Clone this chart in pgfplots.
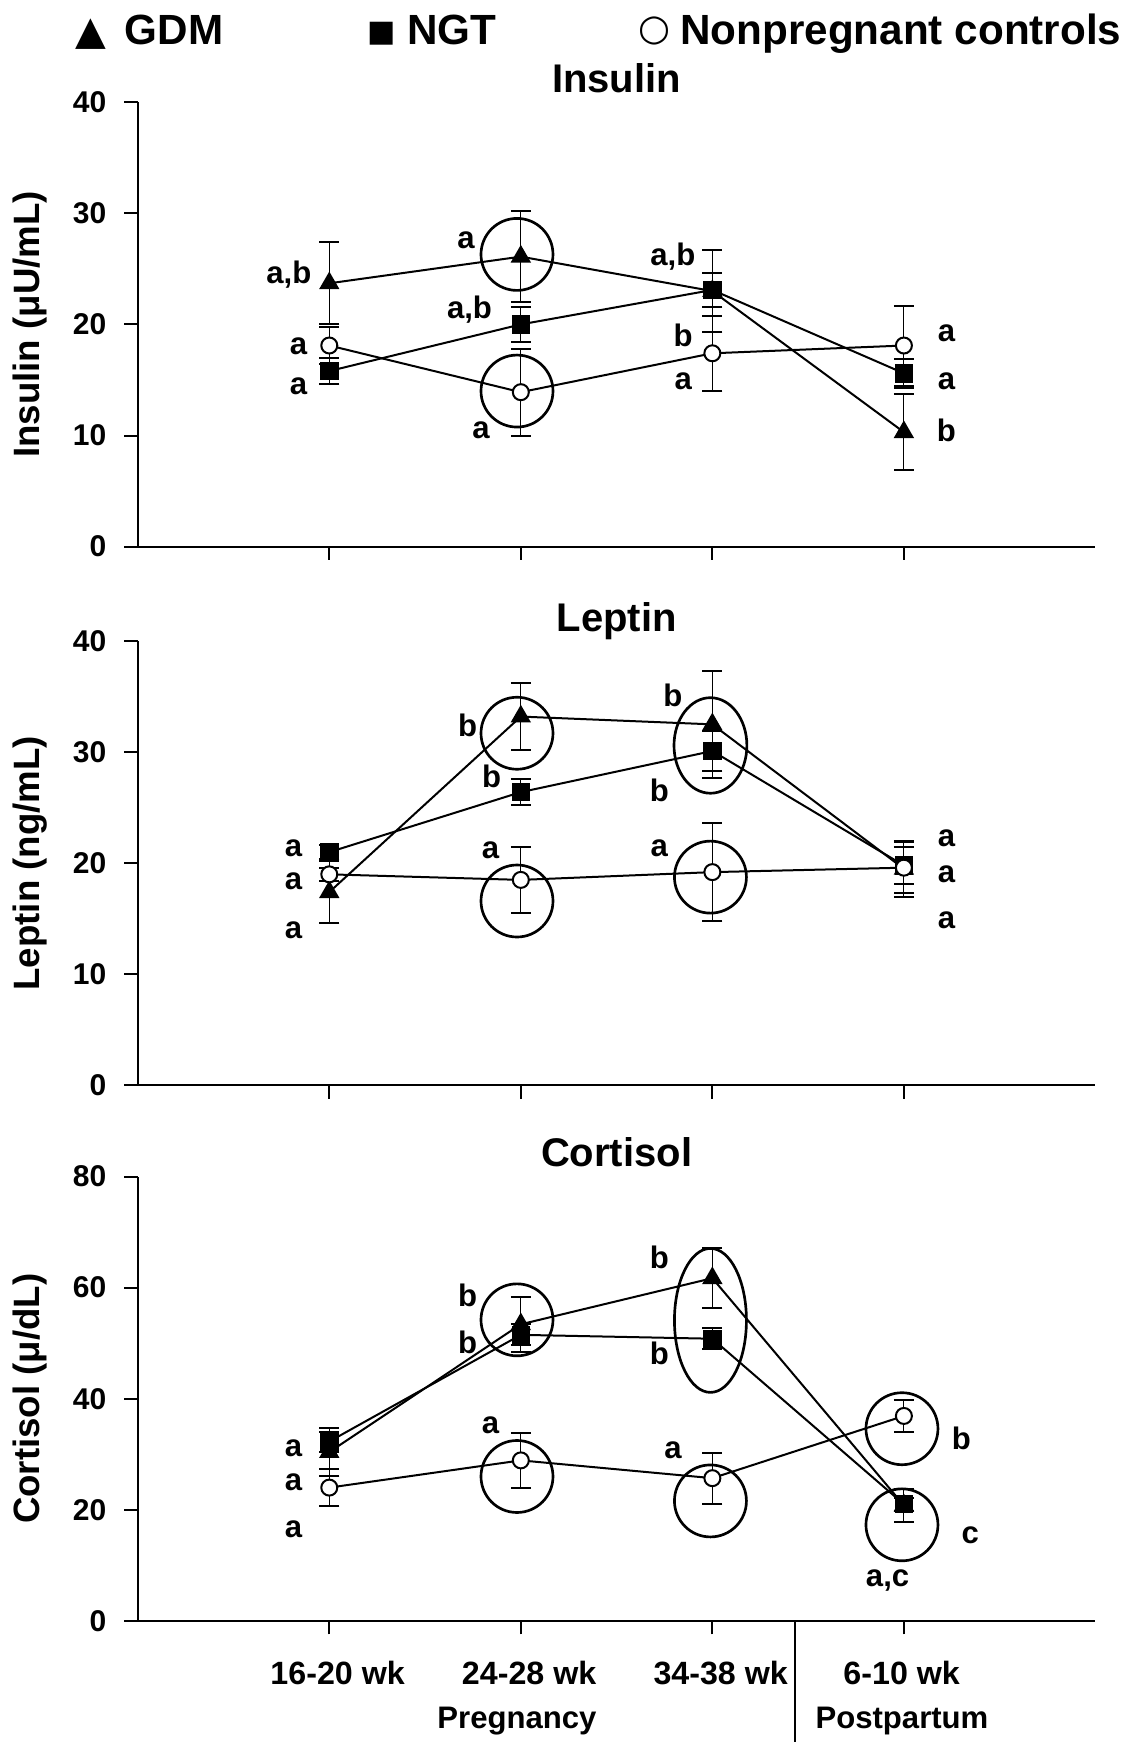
\documentclass[border=0pt]{standalone}
\usepackage{fontspec}
\setmainfont{Liberation Sans}
\newfontfamily\symfont{DejaVu Sans}
\usepackage{pgfplots}
\pgfplotsset{compat=1.18}

\pgfplotsset{
 panel/.style={
  scale only axis, width=431pt, height=200pt,
  xmin=0, xmax=5, ymin=0,
  axis x line=bottom, axis y line=left,
  axis line style={-, line width=0.9pt},
  tick align=outside, major tick length=6pt,
  tick style={line width=0.9pt, black},
  xtick={1,2,3,4},
  /pgf/number format/assume math mode=true,
  tick label style={font=\bfseries\fontsize{13.5}{14}\selectfont},
  yticklabel style={inner sep=0pt, xshift=-8pt},
  xticklabel style={inner sep=0pt, yshift=-12pt, font=\bfseries\fontsize{14.5}{15}\selectfont},
  ylabel style={at={(axis description cs:-0.1125,0.5)}, anchor=center, font=\bfseries\fontsize{16.5}{18}\selectfont},
  title style={at={(axis description cs:0.5,1)}, anchor=base, yshift=-1.5pt, font=\bfseries\fontsize{18}{20}\selectfont},
  clip=false,
  every axis plot/.append style={line width=0.9pt, black},
  error bars/y dir=both, error bars/y explicit,
  error bars/error mark options={rotate=90, mark size=4.5pt, line width=0.9pt},
 },
 gdm/.style={mark=triangle*, mark size=4.4pt, mark options={fill=black}},
 ngt/.style={mark=square*, mark size=3.7pt, mark options={fill=black}},
 ctl/.style={mark=*, mark size=3.6pt, mark options={fill=white}},
}
\tikzset{
 lab/.style={font=\bfseries\fontsize{14}{16}\selectfont, inner sep=0pt, anchor=center},
 ring/.style={line width=1.2pt},
}

\begin{document}
\begin{tikzpicture}
\useasboundingbox (0pt,0pt) rectangle (507.5pt,-784pt);
% legend
\node[anchor=base west, inner sep=0pt, font=\symfont\fontsize{18}{18}\selectfont] at (34pt,-20pt) {▲};
\node[anchor=base west, inner sep=0pt, font=\bfseries\fontsize{19}{20}\selectfont] at (56pt,-20pt) {GDM};
\node[anchor=center, inner sep=0pt, font=\symfont\fontsize{13.5}{13.5}\selectfont] at (171.75pt,-15.25pt) {■};
\node[anchor=base west, inner sep=0pt, font=\bfseries\fontsize{19}{20}\selectfont] at (183pt,-20pt) {NGT};
\node[anchor=center, inner sep=0pt, font=\symfont\fontsize{16.5}{16.5}\selectfont] at (294.5pt,-14pt) {○};
\node[anchor=base west, inner sep=0pt, font=\bfseries\fontsize{19}{20}\selectfont] at (306pt,-20pt) {Nonpregnant controls};

% Insulin
\begin{axis}[panel, at={(62pt,-246pt)}, anchor=south west, ymax=40, ytick={0,10,20,30,40},
  xticklabels={}, title={Insulin}, ylabel={Insulin (μU/mL)}]
\addplot[gdm] coordinates {(1,23.7) +- (0,3.7) (2,26.1) +- (0,4.1) (3,23.0) +- (0,3.7) (4,10.3) +- (0,3.4)};
\addplot[ngt] coordinates {(1,15.8) +- (0,1.2) (2,20.0) +- (0,1.6) (3,23.1) +- (0,1.5) (4,15.6) +- (0,1.3)};
\addplot[ctl] coordinates {(1,18.1) +- (0,1.7) (2,13.9) +- (0,3.9) (3,17.4) +- (0,3.4) (4,18.1) +- (0,3.6)};
\draw[ring] (axis cs:1.98,26.3) circle[radius=16.2pt];
\draw[ring] (axis cs:1.98,14.0) circle[radius=16.2pt];
\node[lab] at (axis cs:0.789,24.45) {a,b};
\node[lab] at (axis cs:0.839,18.0) {a};
\node[lab] at (axis cs:0.839,14.4) {a};
\node[lab] at (axis cs:1.714,27.6) {a};
\node[lab] at (axis cs:1.732,21.3) {a,b};
\node[lab] at (axis cs:1.792,10.5) {a};
\node[lab] at (axis cs:2.794,26.1) {a,b};
\node[lab] at (axis cs:2.848,19.05) {b};
\node[lab] at (axis cs:2.848,14.85) {a};
\node[lab] at (axis cs:4.222,19.2) {a};
\node[lab] at (axis cs:4.222,14.85) {a};
\node[lab] at (axis cs:4.222,10.5) {b};
\end{axis}

% Leptin
\begin{axis}[panel, at={(62pt,-488.5pt)}, anchor=south west, ymax=40, ytick={0,10,20,30,40},
  xticklabels={}, title={Leptin}, ylabel={Leptin (ng/mL)}]
\addplot[gdm] coordinates {(1,17.4) +- (0,2.8) (2,33.2) +- (0,3.0) (3,32.5) +- (0,4.8) (4,19.5) +- (0,2.5)};
\addplot[ngt] coordinates {(1,21.0) +- (0,0.6) (2,26.4) +- (0,1.2) (3,30.1) +- (0,1.8) (4,19.8) +- (0,1.7)};
\addplot[ctl] coordinates {(1,19.0) +- (0,0.6) (2,18.5) +- (0,3.0) (3,19.2) +- (0,4.4) (4,19.6) +- (0,2.3)};
\draw[ring] (axis cs:1.98,31.7) circle[radius=16.2pt];
\draw[ring] (axis cs:1.98,16.6) circle[radius=16.2pt];
\draw[ring] (axis cs:2.99,30.6) ellipse[x radius=16.4pt, y radius=21.5pt];
\draw[ring] (axis cs:2.99,18.75) circle[radius=16.2pt];
\node[lab] at (axis cs:0.813,21.35) {a};
\node[lab] at (axis cs:0.813,18.35) {a};
\node[lab] at (axis cs:0.813,14.0) {a};
\node[lab] at (axis cs:1.722,32.45) {b};
\node[lab] at (axis cs:1.848,27.8) {b};
\node[lab] at (axis cs:1.842,21.2) {a};
\node[lab] at (axis cs:2.794,35.15) {b};
\node[lab] at (axis cs:2.723,26.6) {b};
\node[lab] at (axis cs:2.723,21.35) {a};
\node[lab] at (axis cs:4.222,22.25) {a};
\node[lab] at (axis cs:4.222,19.04) {a};
\node[lab] at (axis cs:4.222,14.84) {a};
\end{axis}

% Cortisol
\begin{axis}[panel, at={(62pt,-729.5pt)}, anchor=south west, ymax=80, ytick={0,20,40,60,80},
  xticklabels={\hspace*{7.5pt}16-20 wk,\hspace*{7.5pt}24-28 wk,\hspace*{7.5pt}34-38 wk,6-10 wk\hspace*{2pt}},
  title={Cortisol}, ylabel={Cortisol (μ/dL)}]
\addplot[gdm] coordinates {(1,30.4) +- (0,4.3) (2,53.4) +- (0,4.9) (3,61.7) +- (0,5.4) (4,20.8) +- (0,3.0)};
\addplot[ngt] coordinates {(1,32.3) +- (0,1.8) (2,51.5) +- (0,1.9) (3,50.8) +- (0,1.9) (4,21.0) +- (0,1.2)};
\addplot[ctl] coordinates {(1,24.0) +- (0,3.4) (2,28.9) +- (0,4.9) (3,25.7) +- (0,4.6) (4,36.9) +- (0,2.9)};
\draw[ring] (axis cs:1.98,54.2) circle[radius=16.2pt];
\draw[ring] (axis cs:1.98,26.0) circle[radius=16.2pt];
\draw[ring] (axis cs:2.99,54.1) ellipse[x radius=16.2pt, y radius=32.4pt];
\draw[ring] (axis cs:2.99,21.6) circle[radius=16.2pt];
\draw[ring] (axis cs:3.99,34.6) circle[radius=16.2pt];
\draw[ring] (axis cs:3.99,17.3) circle[radius=16.2pt];
\node[lab] at (axis cs:0.813,31.1) {a};
\node[lab] at (axis cs:0.813,25.0) {a};
\node[lab] at (axis cs:0.813,16.5) {a};
\node[lab] at (axis cs:1.722,58.6) {b};
\node[lab] at (axis cs:1.722,50.1) {b};
\node[lab] at (axis cs:1.842,35.2) {a};
\node[lab] at (axis cs:2.723,65.4) {b};
\node[lab] at (axis cs:2.723,48.1) {b};
\node[lab] at (axis cs:2.794,30.7) {a};
\node[lab] at (axis cs:4.300,32.8) {b};
\node[lab] at (axis cs:4.347,15.4) {c};
\node[lab] at (axis cs:3.915,7.3) {a,c};
\draw[line width=0.9pt] (axis cs:3.43,0) -- ++(0pt,-54.5pt);
\node[lab, yshift=-45pt] at (axis cs:1.98,0) {Pregnancy};
\node[lab, yshift=-45pt] at (axis cs:3.99,0) {Postpartum};
\end{axis}
\end{tikzpicture}
\end{document}
